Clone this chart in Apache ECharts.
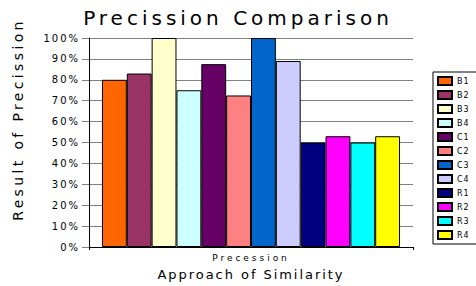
<!DOCTYPE html>
<html>
<head>
<meta charset="utf-8">
<title>Precission Comparison</title>
<script src="https://cdn.jsdelivr.net/npm/echarts@6/dist/echarts.min.js"></script>
<style>
  html, body { margin: 0; padding: 0; background: #fff; }
  #chart { width: 476px; height: 286px; }
  /* the reference draws its text widely spaced, svg text accepts css letter-spacing */
  #chart text[style*="20px"] { letter-spacing: 0.2em; }
  #chart text[style*="14px"] { letter-spacing: 0.24em; }
  #chart text[style*="13px"] { letter-spacing: 0.15em; }
  #chart text[style*="10px"] { letter-spacing: 0.2em; }
  #chart text[style*="9px"] { letter-spacing: 0.33em; }
  #chart text[style*="8px"] { letter-spacing: 0.12em; }
</style>
</head>
<body>
<div id="chart"></div>
<script>
// one category, twelve approaches
var categories = ['Precession']
var seriesNames = ['B1', 'B2', 'B3', 'B4', 'C1', 'C2', 'C3', 'C4', 'R1', 'R2', 'R3', 'R4']
var seriesValues = [80, 83, 100, 75, 87.5, 72.5, 100, 89, 50, 53, 50, 53] // precision in %
var seriesColors = ['#ff6600', '#993366', '#ffffcc', '#ccffff', '#660066', '#ff8080',
                    '#0066cc', '#ccccff', '#000080', '#ff00ff', '#00ffff', '#ffff00']
var yTicks = { min: 0, max: 100, interval: 10 }

var font = 'DejaVu Sans'

var series = []
for (var i = 0; i < seriesNames.length; i++) {
  series.push({
    name: seriesNames[i],
    type: 'bar',
    barGap: '0%',
    barCategoryGap: '8%',
    data: [seriesValues[i]],
    itemStyle: {
      color: seriesColors[i],
      borderColor: '#000',
      borderWidth: 1
    },
    emphasis: { disabled: true }
  })
}

var myChart = echarts.init(document.getElementById('chart'), null, { renderer: 'svg' })
var option = {
  animation: false,
  title: {
    text: 'Precission Comparison',
    left: 'center',
    top: 3,
    textStyle: { fontFamily: font, fontSize: 20, fontWeight: 'normal', color: '#000' }
  },
  legend: {
    orient: 'vertical',
    left: 433,
    top: 72,
    padding: [4, 30, 4, 4],
    itemWidth: 14,
    itemHeight: 8,
    itemGap: 4,
    icon: 'rect',
    borderColor: '#000',
    borderWidth: 1,
    textStyle: { fontFamily: font, fontSize: 8, color: '#000', lineHeight: 8 },
    data: seriesNames
  },
  grid: {
    left: 89,
    right: 63,
    top: 38,
    bottom: 39
  },
  xAxis: {
    type: 'category',
    data: categories,
    name: 'Approach of Similarity',
    nameLocation: 'middle',
    nameGap: 21,
    nameTextStyle: { fontFamily: font, fontSize: 13, color: '#000' },
    axisLine: { lineStyle: { color: '#000', width: 1 } },
    axisTick: { show: true, length: 3, lineStyle: { color: '#000' } },
    axisLabel: { fontFamily: font, fontSize: 9, color: '#000', margin: 6 }
  },
  yAxis: {
    type: 'value',
    min: yTicks.min,
    max: yTicks.max,
    interval: yTicks.interval,
    name: 'Result of Precission',
    nameLocation: 'middle',
    nameGap: 64,
    // pushes the rotated name up, as in the reference
    nameTextStyle: { fontFamily: font, fontSize: 14, color: '#000', padding: [0, 0, 0, 46] },
    axisLine: { show: true, lineStyle: { color: '#000', width: 1 } },
    axisTick: { show: true, length: 7, lineStyle: { color: '#808080' } },
    axisLabel: { fontFamily: font, fontSize: 10, color: '#000', margin: 9, formatter: '{value}%' },
    splitLine: { show: true, lineStyle: { color: '#808080', width: 1 } }
  },
  series: series
}
myChart.setOption(option)
</script>
</body>
</html>
